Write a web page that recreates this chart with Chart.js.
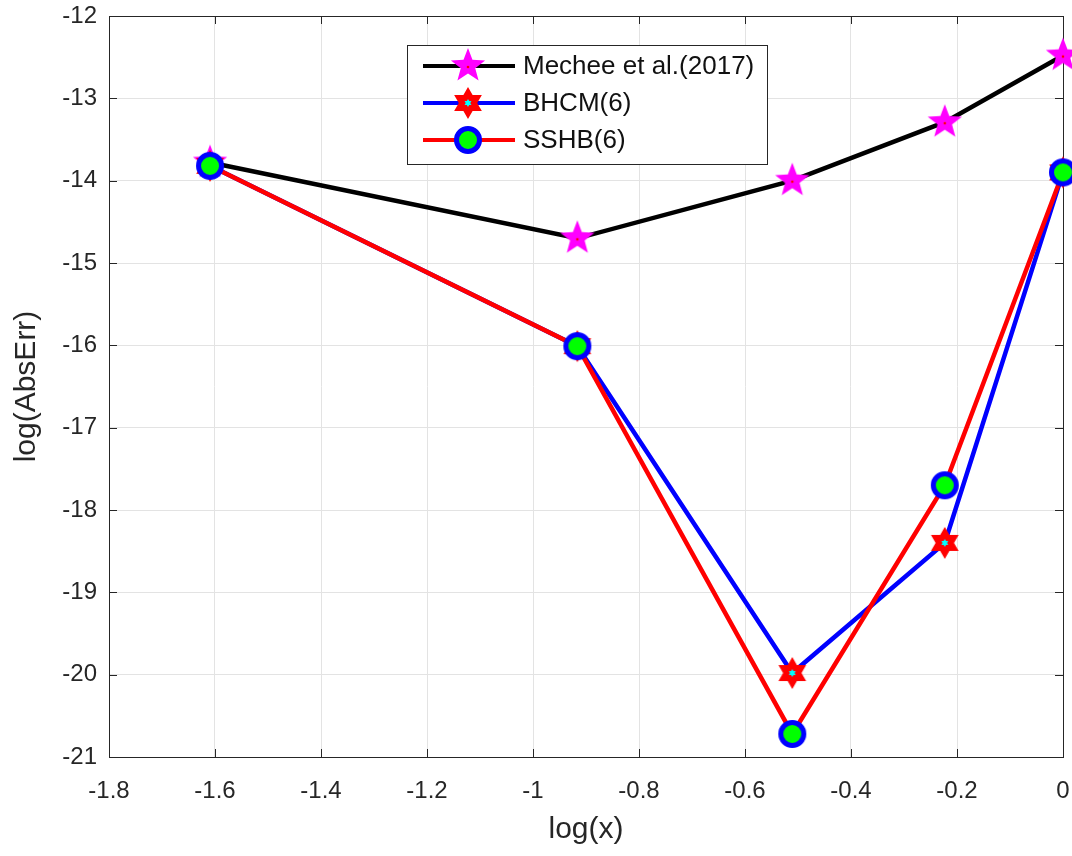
<!DOCTYPE html>
<html>
<head>
<meta charset="utf-8">
<script src="https://cdn.jsdelivr.net/npm/chart.js@4/dist/chart.umd.min.js"></script>
<style>
  html, body { margin: 0; padding: 0; background: #fff; }
  #wrap { width: 1072px; height: 856px; }
</style>
</head>
<body>
<div id="wrap"><canvas id="c" width="1072" height="856"></canvas></div>
<script>
// values
const logX = [-1.6094, -0.9163, -0.5108, -0.2231, 0];
const mechee = [-13.78, -14.70, -14.00, -13.29, -12.48];
const bhcm = [-13.82, -16.01, -19.98, -18.40, -13.90];
const sshb = [-13.82, -16.01, -20.72, -17.70, -13.90];
const seriesNames = ['Mechee et al.(2017)', 'BHCM(6)', 'SSHB(6)'];
const xTicks = [-1.8, -1.6, -1.4, -1.2, -1, -0.8, -0.6, -0.4, -0.2, 0];
const yTicks = [-21, -20, -19, -18, -17, -16, -15, -14, -13, -12];

const FONT = '"Liberation Sans", Arial, sans-serif';

// marker images
function makeMarker(size, draw) {
  const cv = document.createElement('canvas');
  cv.width = size; cv.height = size;
  const g = cv.getContext('2d');
  g.translate(size / 2, size / 2);
  draw(g);
  return cv;
}
function starPath(g, n, R, r) {
  g.beginPath();
  for (let i = 0; i < n * 2; i++) {
    const rad = i % 2 === 0 ? R : r;
    const a = -Math.PI / 2 + i * Math.PI / n;
    const px = rad * Math.cos(a), py = rad * Math.sin(a);
    if (i === 0) g.moveTo(px, py); else g.lineTo(px, py);
  }
  g.closePath();
}
const pentagram = makeMarker(40, g => {
  starPath(g, 5, 18, 7.6);
  g.fillStyle = '#ff00ff';
  g.fill();
  g.beginPath();
  g.arc(0, 1, 1.3, 0, Math.PI * 2);
  g.fillStyle = '#ff0000';
  g.fill();
});
const hexagram = makeMarker(36, g => {
  starPath(g, 6, 16, 9.2);
  g.fillStyle = '#ff0000';
  g.fill();
  starPath(g, 6, 4, 2.3);
  g.fillStyle = '#00ffff';
  g.fill();
});
const ring = makeMarker(32, g => {
  g.beginPath();
  g.arc(0, 0, 11.5, 0, Math.PI * 2);
  g.fillStyle = '#00ff00';
  g.fill();
  g.lineWidth = 5;
  g.strokeStyle = '#0000ff';
  g.stroke();
});

const lineColors = ['#000000', '#0000ff', '#ff0000'];
const markers = [pentagram, hexagram, ring];

function pts(ys) { return logX.map((x, i) => ({ x: x, y: ys[i] })); }

// box, inward ticks
const boxPlugin = {
  id: 'box',
  beforeDatasetsDraw(chart) {
    const { ctx, chartArea: a, scales } = chart;
    ctx.save();
    ctx.strokeStyle = '#262626';
    ctx.lineWidth = 1;
    ctx.beginPath();
    xTicks.forEach(v => {
      const px = Math.round(scales.x.getPixelForValue(v)) + 0.5;
      ctx.moveTo(px, a.bottom); ctx.lineTo(px, a.bottom - 8);
      ctx.moveTo(px, a.top); ctx.lineTo(px, a.top + 8);
    });
    yTicks.forEach(v => {
      const py = Math.round(scales.y.getPixelForValue(v)) + 0.5;
      ctx.moveTo(a.left, py); ctx.lineTo(a.left + 8, py);
      ctx.moveTo(a.right, py); ctx.lineTo(a.right - 8, py);
    });
    ctx.stroke();
    ctx.strokeRect(Math.round(a.left) + 0.5, Math.round(a.top) + 0.5,
      Math.round(a.right - a.left), Math.round(a.bottom - a.top));
    ctx.restore();
  }
};

// legend in the plot, line plus marker
const legendPlugin = {
  id: 'mlegend',
  afterDraw(chart) {
    const ctx = chart.ctx;
    const bx = 407, by = 45, bw = 360, bh = 119;
    ctx.save();
    ctx.fillStyle = '#fff';
    ctx.fillRect(bx, by, bw, bh);
    ctx.strokeStyle = '#262626';
    ctx.lineWidth = 1;
    ctx.strokeRect(bx + 0.5, by + 0.5, bw, bh);
    ctx.font = '26px ' + FONT;
    ctx.textBaseline = 'middle';
    ctx.textAlign = 'left';
    seriesNames.forEach((name, i) => {
      const y = 66 + i * 37;
      ctx.strokeStyle = lineColors[i];
      ctx.lineWidth = 4;
      ctx.beginPath();
      ctx.moveTo(423, y); ctx.lineTo(515, y);
      ctx.stroke();
      const m = markers[i];
      ctx.drawImage(m, 468 - m.width / 2, y - m.height / 2);
      ctx.fillStyle = '#111';
      ctx.fillText(name, 523, y + 1);
    });
    ctx.restore();
  }
};

const fmt = v => {
  const r = Math.round(v * 10) / 10;
  return r === 0 ? '0' : String(r);
};

new Chart(document.getElementById('c'), {
  type: 'scatter',
  data: {
    datasets: [
      { label: seriesNames[0], data: pts(mechee), order: 3 },
      { label: seriesNames[1], data: pts(bhcm), order: 2 },
      { label: seriesNames[2], data: pts(sshb), order: 1 }
    ].map((d, i) => Object.assign(d, {
      showLine: true,
      borderColor: lineColors[i],
      borderWidth: 4.5,
      pointStyle: markers[i],
      pointRadius: 14,
      pointHoverRadius: 14,
      clip: false
    }))
  },
  options: {
    responsive: false,
    animation: false,
    layout: { autoPadding: false, padding: { top: 16, right: 9, left: 0, bottom: 0 } },
    plugins: { legend: { display: false }, tooltip: { enabled: false } },
    scales: {
      x: {
        type: 'linear', min: -1.8, max: 0,
        afterBuildTicks: s => { s.ticks = xTicks.map(v => ({ value: v })); },
        afterFit: s => { s.height = 99; s.paddingLeft = 0; s.paddingRight = 0; },
        grid: { color: '#e3e3e3', drawTicks: false },
        border: { display: false },
        ticks: { callback: fmt, padding: 20, color: '#262626', maxRotation: 0,
          font: { family: FONT, size: 24 } },
        title: { display: true, text: 'log(x)', color: '#262626',
          padding: { top: 0, bottom: 8 }, font: { family: FONT, size: 30 } }
      },
      y: {
        type: 'linear', min: -21, max: -12,
        afterBuildTicks: s => { s.ticks = yTicks.map(v => ({ value: v })); },
        afterFit: s => { s.width = 109; s.paddingTop = 0; s.paddingBottom = 0; },
        grid: { color: '#e3e3e3', drawTicks: false },
        border: { display: false },
        ticks: { callback: fmt, padding: 12, color: '#262626',
          font: { family: FONT, size: 24 } },
        title: { display: true, text: 'log(AbsErr)', color: '#262626',
          padding: { top: 9, bottom: 0 }, font: { family: FONT, size: 30 } }
      }
    }
  },
  plugins: [boxPlugin, legendPlugin]
});
</script>
</body>
</html>
